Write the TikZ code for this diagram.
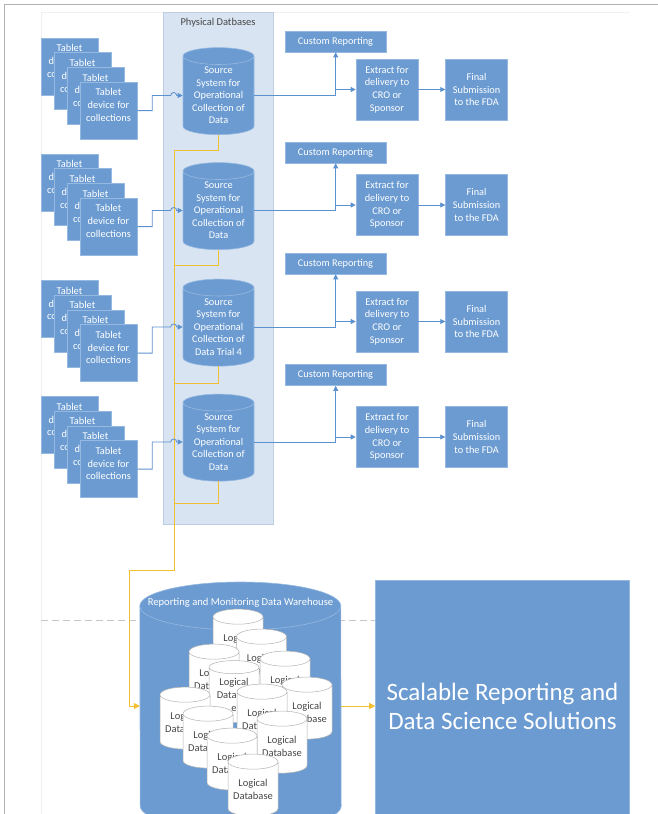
\documentclass[tikz,border=0pt]{standalone}
\usepackage{fontspec}
\setmainfont{Carlito}
\usetikzlibrary{positioning,shapes.geometric,arrows.meta}

\definecolor{boxblue}{RGB}{107,155,209}
\definecolor{boxedge}{RGB}{150,185,225}
\definecolor{panelblue}{RGB}{216,228,242}
\definecolor{paneledge}{RGB}{190,206,226}
\definecolor{linkblue}{RGB}{92,145,207}
\definecolor{linkgold}{RGB}{242,190,50}
\definecolor{textgrey}{RGB}{70,70,70}

\newcommand{\tablettext}{Tablet\\device for\\collections}
\newcommand{\sourcetext}{Source\\System for\\Operational\\Collection of\\Data}
\newcommand{\logictext}{Logical\\Database}

\tikzset{
  bluebox/.style={rectangle, draw=boxedge, line width=0.6pt, fill=boxblue, text=white, align=center, inner sep=0pt},
  tabtext/.style={text=white, align=center, inner sep=0pt, yshift=5.5pt, font=\fontsize{10.4}{12.8}\selectfont},
  tablet/.style={bluebox, minimum width=57pt, minimum height=57pt, label={[tabtext]center:\tablettext}},
  srcdb/.style={cylinder, shape border rotate=90, aspect=0.32, draw=boxedge, line width=0.6pt, fill=boxblue, text=white, align=center, inner sep=0pt, minimum width=71pt, minimum height=87pt, font=\fontsize{10.3}{12.5}\selectfont},
  crbox/.style={bluebox, minimum width=101pt, minimum height=21pt, font=\fontsize{10.3}{12}\selectfont},
  extbox/.style={bluebox, minimum width=62pt, minimum height=61pt, font=\fontsize{10.3}{12.6}\selectfont},
  finbox/.style={bluebox, minimum width=62pt, minimum height=61pt, font=\fontsize{10.3}{12.6}\selectfont},
  panel/.style={rectangle, draw=paneledge, fill=panelblue, minimum width=110pt, minimum height=512pt},
  ptitle/.style={text=textgrey, inner sep=1pt, font=\fontsize{10.5}{12}\selectfont},
  whbody/.style={fill=boxblue, draw=boxedge, line width=0.6pt},
  whtitle/.style={text=white, inner sep=0pt, font=\fontsize{10.6}{12}\selectfont},
  logdb/.style={cylinder, shape border rotate=90, aspect=0.38, draw=gray!60, line width=0.5pt, fill=white, text=textgrey, align=center, inner sep=0pt, minimum width=50pt, minimum height=62pt, font=\fontsize{10.5}{12.8}\selectfont},
  bigbox/.style={bluebox, minimum width=254pt, minimum height=252pt, font=\fontsize{25}{29}\selectfont},
  blink/.style={draw=linkblue, line width=0.8pt, -{Triangle[length=5pt,width=5pt]}},
  ylink/.style={draw=linkgold, line width=1pt},
  ytip/.style={-{Triangle[length=6pt,width=6pt]}},
}

\begin{document}
\begin{tikzpicture}[x=1pt, y=-1pt]
\useasboundingbox (0,0) rectangle (658,814);
\draw[gray!60, line width=1pt] (4,814) -- (4,4) -- (658,4);
\draw[gray!12] (41,814) -- (41,12) -- (630,12);

\node[panel] (phys) at (218,268) {};
\node[ptitle, below=5pt of phys.north] (physname) {Physical Datbases};

\draw[gray!45, line width=1pt, dash pattern=on 7pt off 4pt] (41,620) -- (375,620);

% tablets
\node[tablet] (t1a) at (69.5,66.5) {};
\node[tablet] (t1b) at ([shift={(13,14.7)}]t1a) {};
\node[tablet] (t1c) at ([shift={(13,14.7)}]t1b) {};
\node[tablet] (t1d) at ([shift={(13,14.7)}]t1c) {};

\node[tablet] (t2a) at (69.5,182.5) {};
\node[tablet] (t2b) at ([shift={(13,14.7)}]t2a) {};
\node[tablet] (t2c) at ([shift={(13,14.7)}]t2b) {};
\node[tablet] (t2d) at ([shift={(13,14.7)}]t2c) {};

\node[tablet] (t3a) at (69.5,309) {};
\node[tablet] (t3b) at ([shift={(13,14.7)}]t3a) {};
\node[tablet] (t3c) at ([shift={(13,14.7)}]t3b) {};
\node[tablet] (t3d) at ([shift={(13,14.7)}]t3c) {};

\node[tablet] (t4a) at (69.5,425) {};
\node[tablet] (t4b) at ([shift={(13,14.7)}]t4a) {};
\node[tablet] (t4c) at ([shift={(13,14.7)}]t4b) {};
\node[tablet] (t4d) at ([shift={(13,14.7)}]t4c) {};

% source systems
\node[srcdb] (src1) at (218.5,95.5) {\sourcetext};
\node[srcdb] (src2) at (218.5,210.5) {\sourcetext};
\node[srcdb] (src3) at (218.5,327) {Source\\System for\\Operational\\Collection of\\Data Trial 4};
\node[srcdb] (src4) at (218.5,442) {\sourcetext};

% reporting and extracts
\node[crbox] (cr1) at (335.5,41.5) {Custom Reporting};
\node[crbox] (cr2) at (335.5,152.5) {Custom Reporting};
\node[crbox] (cr3) at (335.5,263.5) {Custom Reporting};
\node[crbox] (cr4) at (335.5,375) {Custom Reporting};

\node[extbox] (ext1) at (387,89.5) {Extract for\\delivery to\\CRO or\\Sponsor};
\node[extbox] (ext2) at (387,205) {Extract for\\delivery to\\CRO or\\Sponsor};
\node[extbox] (ext3) at (387,321.5) {Extract for\\delivery to\\CRO or\\Sponsor};
\node[extbox] (ext4) at (387,437) {Extract for\\delivery to\\CRO or\\Sponsor};

\node[finbox, right=27pt of ext1] (fin1) {Final\\Submission\\to the FDA};
\node[finbox, right=27pt of ext2] (fin2) {Final\\Submission\\to the FDA};
\node[finbox, right=27pt of ext3] (fin3) {Final\\Submission\\to the FDA};
\node[finbox, right=27pt of ext4] (fin4) {Final\\Submission\\to the FDA};

% warehouse
\node[minimum width=201pt, minimum height=248pt, inner sep=0pt] (wh) at (240.5,706) {};
\draw[whbody] (wh.west |- 0,606) arc[start angle=180, end angle=360, x radius=100.5, y radius=24]
  -- (wh.east |- 0,806) arc[start angle=0, end angle=180, x radius=100.5, y radius=24] -- cycle;
\draw[boxedge, line width=0.6pt] (wh.west |- 0,606) arc[start angle=180, end angle=0, x radius=100.5, y radius=24];
\node[whtitle] (whname) at (240.5,603) {Reporting and Monitoring Data Warehouse};
\node[bigbox, right=34pt of wh] (sci) {Scalable Reporting and\\Data Science Solutions};

\node[logdb] (ld1) at (238,644) {\logictext};
\node[logdb] (ld2) at (261.5,664) {\logictext};
\node[logdb] (ld3) at (214,679) {\logictext};
\node[logdb] (ld5) at (285,686) {\logictext};
\node[logdb] (ld4) at (234,695) {Logical\\Databas\\e};
\node[logdb] (ld6) at (307,712) {\logictext};
\node[logdb] (ld7) at (262,719) {\logictext};
\node[logdb] (ld8) at (185,722) {\logictext};
\node[logdb] (ld9) at (208,741) {\logictext};
\node[logdb] (ld10) at (282,746) {\logictext};
\node[logdb] (ld11) at (232,763) {\logictext};
\node[logdb] (ld12) at (253,789) {\logictext};

% yellow feeds
\coordinate (ybend) at (129.5,570);
\draw[ylink, ytip] (src1.south) -- ++(0,16) -- ++(-44.5,0) |- (ybend) |- (wh.west);
\draw[ylink] (src2.south) -- ++(0,16) -- ++(-44.5,0);
\draw[ylink] (src3.south) -- ++(0,17) -- ++(-44.5,0);
\draw[ylink] (src4.south) -- ++(0,22) -- ++(-44.5,0);
\draw[ylink, ytip] (wh) -- (sci);

% blue flows
\draw[blink] (t1d.east) -- ++(15,0) |- ([xshift=-12pt]src1.west) arc[start angle=180, end angle=360, radius=3] -- (src1.west);
\draw[blink] (t2d.east) -- ++(15,0) |- ([xshift=-12pt]src2.west) arc[start angle=180, end angle=360, radius=3] -- (src2.west);
\draw[blink] (t3d.east) -- ++(15,0) |- ([xshift=-12pt]src3.west) arc[start angle=180, end angle=360, radius=3] -- (src3.west);
\draw[blink] (t4d.east) -- ++(15,0) |- ([xshift=-12pt]src4.west) arc[start angle=180, end angle=360, radius=3] -- (src4.west);

\coordinate (j1) at ([xshift=-20pt]ext1.west);
\coordinate (j2) at ([xshift=-20pt]ext2.west);
\coordinate (j3) at ([xshift=-20pt]ext3.west);
\coordinate (j4) at ([xshift=-20pt]ext4.west);

\draw[blink] (src1.east) -| (j1) -- (ext1.west);
\draw[blink] (src2.east) -| (j2) -- (ext2.west);
\draw[blink] (src3.east) -| (j3) -- (ext3.west);
\draw[blink] (src4.east) -| (j4) -- (ext4.west);

\draw[blink] (j1) -- (j1 |- cr1.south);
\draw[blink] (j2) -- (j2 |- cr2.south);
\draw[blink] (j3) -- (j3 |- cr3.south);
\draw[blink] (j4) -- (j4 |- cr4.south);

\draw[blink] (ext1) -- (fin1);
\draw[blink] (ext2) -- (fin2);
\draw[blink] (ext3) -- (fin3);
\draw[blink] (ext4) -- (fin4);
\end{tikzpicture}
\end{document}
